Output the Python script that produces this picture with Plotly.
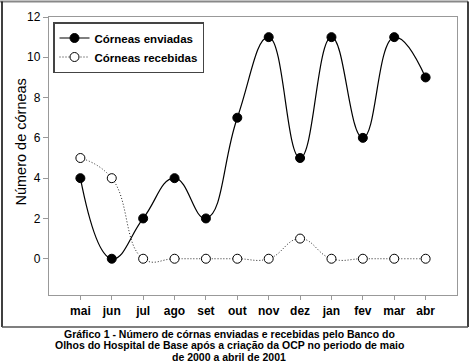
import plotly.graph_objects as go

months = ["mai", "jun", "jul", "ago", "set", "out", "nov", "dez", "jan", "fev", "mar", "abr"]
enviadas = [4, 0, 2, 4, 2, 7, 11, 5, 11, 6, 11, 9]
recebidas = [5, 4, 0, 0, 0, 0, 0, 1, 0, 0, 0, 0]
y_ticks = [0, 2, 4, 6, 8, 10, 12]
y_title = "Número de córneas"
caption_lines = [
    "Gráfico 1 - Número de córnas enviadas e recebidas pelo Banco do",
    "Olhos do Hospital de Base após a criação da OCP no periodo de maio",
    "de 2000 a abril de 2001",
]

W, H = 470, 362
L, R, T, B = 49, 13, 17, 67
pw, ph = W - L - R, H - T - B

def px(x):
    return (x - L) / pw

def py(y):
    return (H - B - y) / ph

xi = list(range(len(months)))

fig = go.Figure()
fig.add_trace(go.Scatter(
    x=xi, y=enviadas, name="<b>Córneas enviadas</b>", mode="lines+markers",
    line=dict(color="black", width=1.2, shape="spline", smoothing=1.3),
    marker=dict(color="black", size=9, line=dict(color="black", width=1)),
))
fig.add_trace(go.Scatter(
    x=xi, y=recebidas, name="<b>Córneas recebidas</b>", mode="lines+markers",
    line=dict(color="#222222", width=1, shape="spline", smoothing=1.3, dash="1px,2px"),
    marker=dict(color="white", size=9, line=dict(color="black", width=1)),
))

annotations = []
cap_y = [333.5, 345.0, 356.5]
for i, line in enumerate(caption_lines):
    annotations.append(dict(
        text=line, xref="paper", yref="paper", x=px(229), y=py(cap_y[i]),
        xanchor="center", yanchor="middle", showarrow=False,
        font=dict(size=10.5, weight="bold"),
    ))
annotations.append(dict(
    text=y_title, xref="paper", yref="paper", x=px(20), y=py(142.5),
    xanchor="center", yanchor="middle", showarrow=False, textangle=-90,
    font=dict(size=14.5),
))

fig.update_layout(
    width=W, height=H,
    margin=dict(l=L, r=R, t=T, b=B),
    paper_bgcolor="white", plot_bgcolor="white",
    font=dict(family="Liberation Sans, Arial, sans-serif", color="black"),
    showlegend=True,
    legend=dict(
        x=px(53), y=py(22), xanchor="left", yanchor="top",
        bordercolor="#444444", borderwidth=1.5, bgcolor="white",
        font=dict(size=11.5, family="Liberation Sans, Arial, sans-serif"),
        tracegroupgap=0, itemwidth=30,
    ),
    xaxis=dict(
        range=[-1, 12], tickmode="array", tickvals=xi, ticktext=months,
        showgrid=False, zeroline=False, showline=True, linecolor="#999999",
        linewidth=1.3, mirror=True, ticks="outside", ticklen=4,
        tickcolor="#999999", tickwidth=1.3, automargin=False,
        tickfont=dict(size=12, weight="bold"),
    ),
    yaxis=dict(
        range=[-1.8, 12], tickmode="array", tickvals=y_ticks,
        ticktext=[str(v) for v in y_ticks],
        showgrid=False, zeroline=False, showline=True, linecolor="#999999",
        linewidth=1.3, mirror=True, ticks="outside", ticklen=5,
        tickcolor="#999999", tickwidth=1.3, automargin=False,
        tickfont=dict(size=12),
    ),
    shapes=[
        dict(type="line", xref="paper", yref="paper", x0=px(0), x1=px(468),
             y0=py(1.5), y1=py(1.5), line=dict(color="#888888", width=2)),
        dict(type="line", xref="paper", yref="paper", x0=px(2), x1=px(2),
             y0=py(1.5), y1=py(327), line=dict(color="black", width=1.5)),
        dict(type="line", xref="paper", yref="paper", x0=px(468), x1=px(468),
             y0=py(1.5), y1=py(327), line=dict(color="black", width=1.5)),
        dict(type="line", xref="paper", yref="paper", x0=px(2), x1=px(468),
             y0=py(327), y1=py(327), line=dict(color="#555555", width=1.5)),
    ],
    annotations=annotations,
)

fig.write_html(
    "out.html",
    config={"displayModeBar": False},
    post_script="document.body.style.margin='0';document.body.style.overflow='hidden';",
)
